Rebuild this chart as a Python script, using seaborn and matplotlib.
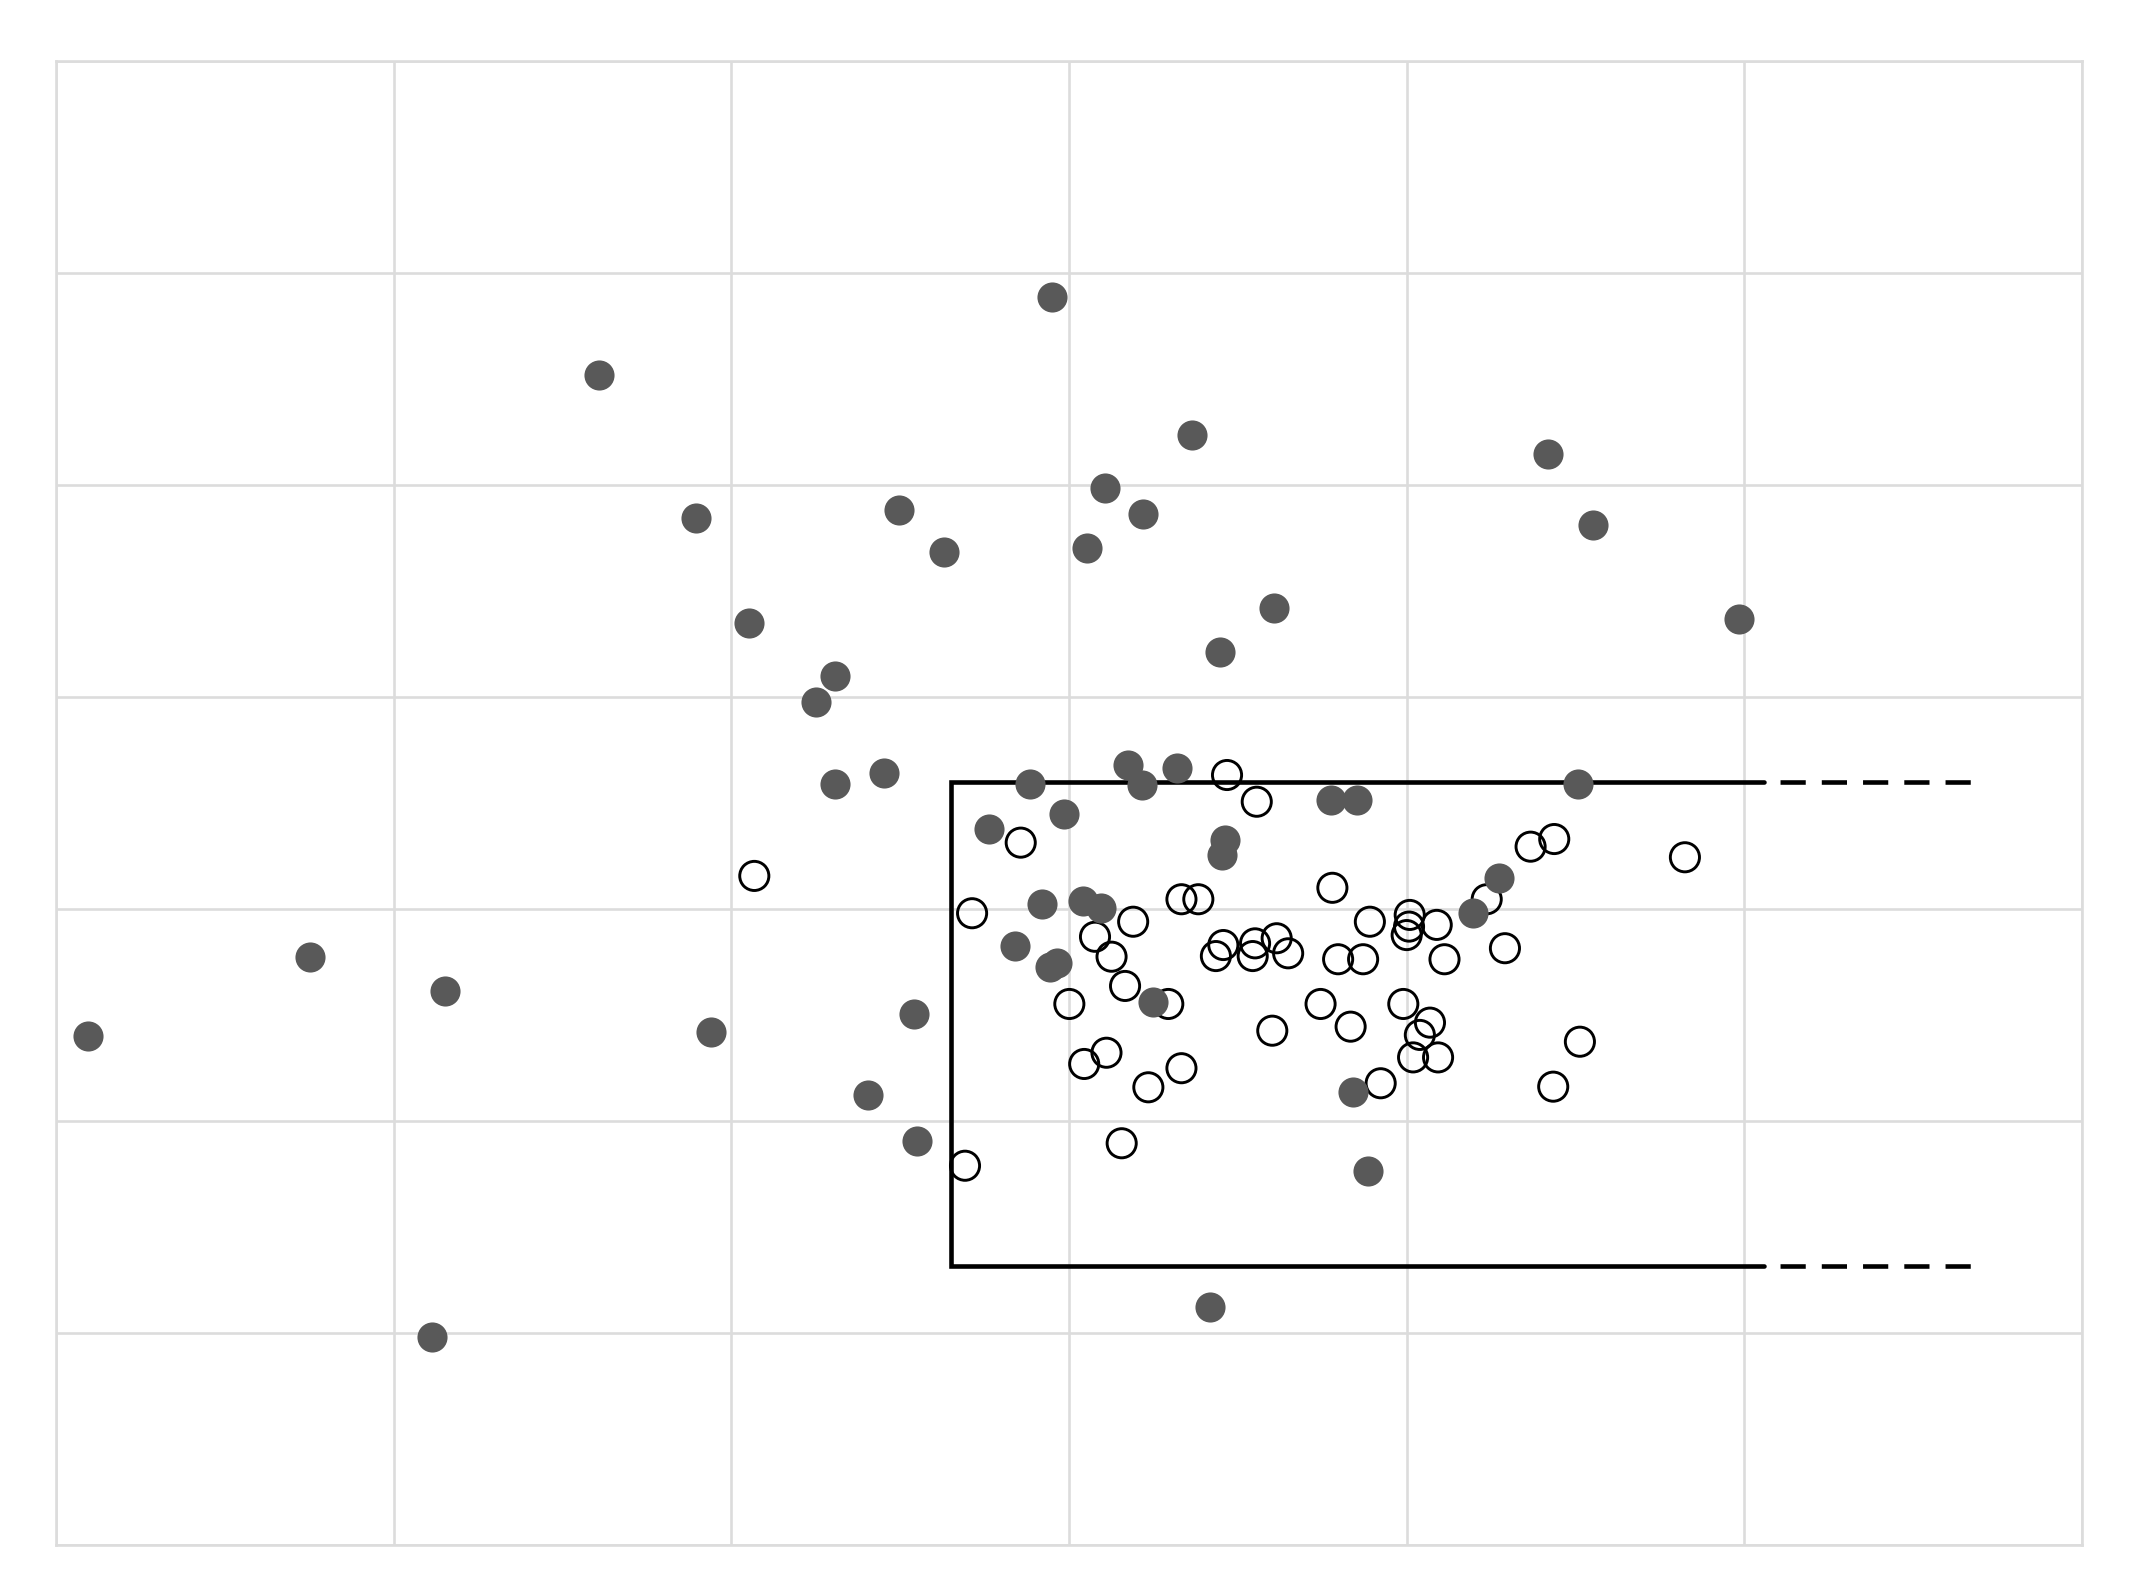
import numpy as np
import pandas as pd
import matplotlib
matplotlib.use("Agg")
import matplotlib.pyplot as plt
import seaborn as sns

# filled (grey) points
filled_x = [2.951, 1.607, 3.363, 4.419, 3.107, 1.895, 2.496, 3.218, 4.552, 2.630,
            3.052, 3.607, 2.051, 4.985, 3.447, 2.307, 2.251, 2.307, 2.451, 2.884,
            3.174, 3.217, 3.319, 3.775, 3.852, 4.508, 2.763, 2.985, 3.462, 3.452,
            2.919, 3.040, 3.094, 4.274, 4.195, 2.840, 2.943, 2.963, 0.751, 1.151,
            0.096, 1.939, 2.542, 3.249, 2.406, 2.551, 3.840, 3.884, 3.417, 1.114]
filled_y = [5.888, 5.517, 5.236, 5.146, 4.987, 4.846, 4.882, 4.863, 4.810, 4.685,
            4.704, 4.421, 4.350, 4.366, 4.212, 4.100, 3.978, 3.588, 3.642, 3.588,
            3.679, 3.585, 3.664, 3.514, 3.514, 3.588, 3.376, 3.448, 3.325, 3.255,
            3.022, 3.039, 3.003, 3.145, 2.983, 2.827, 2.728, 2.744, 2.774, 2.613,
            2.401, 2.422, 2.506, 2.560, 2.121, 1.906, 2.137, 1.764, 1.124, 0.980]

# open (hollow) points
open_x = [3.468, 3.556, 2.857, 2.713, 3.333, 3.383, 3.780, 3.190, 3.077, 3.126,
          3.166, 3.001, 3.294, 3.457, 3.435, 3.551, 3.544, 3.615, 3.649, 3.891,
          4.009, 4.007, 4.000, 4.089, 3.797, 3.871, 4.112, 3.745, 3.834, 3.602,
          3.990, 4.069, 4.039, 4.019, 4.093, 3.923, 3.111, 3.045, 3.333, 3.235,
          4.367, 4.437, 4.824, 4.237, 4.291, 4.513, 4.434, 2.692, 3.156, 2.068]
open_y = [3.632, 3.506, 3.313, 2.980, 3.046, 3.046, 3.100, 2.940, 2.869, 2.775,
          2.637, 2.552, 2.552, 2.830, 2.778, 2.838, 2.778, 2.862, 2.791, 2.940,
          2.972, 2.917, 2.877, 2.925, 2.763, 2.763, 2.763, 2.552, 2.445, 2.426,
          2.552, 2.464, 2.406, 2.300, 2.300, 2.178, 2.322, 2.269, 2.249, 2.159,
          3.294, 3.330, 3.244, 3.046, 2.815, 2.374, 2.162, 1.789, 1.895, 3.156]

# bracket
box_left = 2.65
box_top = 3.60
box_bottom = 1.316
box_solid_end = 5.058
box_dash_end = 5.68

df_filled = pd.DataFrame({"x": filled_x, "y": filled_y})
df_open = pd.DataFrame({"x": open_x, "y": open_y})

sns.set_style("whitegrid", {"grid.color": "#dcdcdc", "axes.edgecolor": "#dcdcdc"})

fig = plt.figure(figsize=(21.31, 15.90), dpi=100)
ax = fig.add_axes([0.02628, 0.0283, 0.95073, 0.93334])

# bracket lines
ax.plot([box_solid_end, box_left, box_left, box_solid_end],
        [box_top, box_top, box_bottom, box_bottom],
        color="black", lw=3.3, solid_joinstyle="miter", zorder=2)
for yy in [box_top, box_bottom]:
    ax.plot([box_solid_end, box_dash_end], [yy, yy], color="black", lw=3.3,
            linestyle=(5.5, (5.5, 3.5)), dash_capstyle="butt", zorder=2)

sns.scatterplot(data=df_open, x="x", y="y", ax=ax, s=440, color="black",
                facecolor="none", edgecolor="black", linewidth=2.1, zorder=3)
sns.scatterplot(data=df_filled, x="x", y="y", ax=ax, s=470, color="#595959",
                linewidth=0, zorder=4)

ax.set_xlim(0, 6)
ax.set_ylim(0, 7)
ax.set_xticks(range(7))
ax.set_yticks(range(8))
ax.tick_params(length=0, labelbottom=False, labelleft=False)
ax.set_xlabel("")
ax.set_ylabel("")
ax.grid(True, color="#dcdcdc", linewidth=1.9)
for sp in ax.spines.values():
    sp.set_color("#dcdcdc")
    sp.set_linewidth(1.9)

fig.savefig("out.png", dpi=100)
